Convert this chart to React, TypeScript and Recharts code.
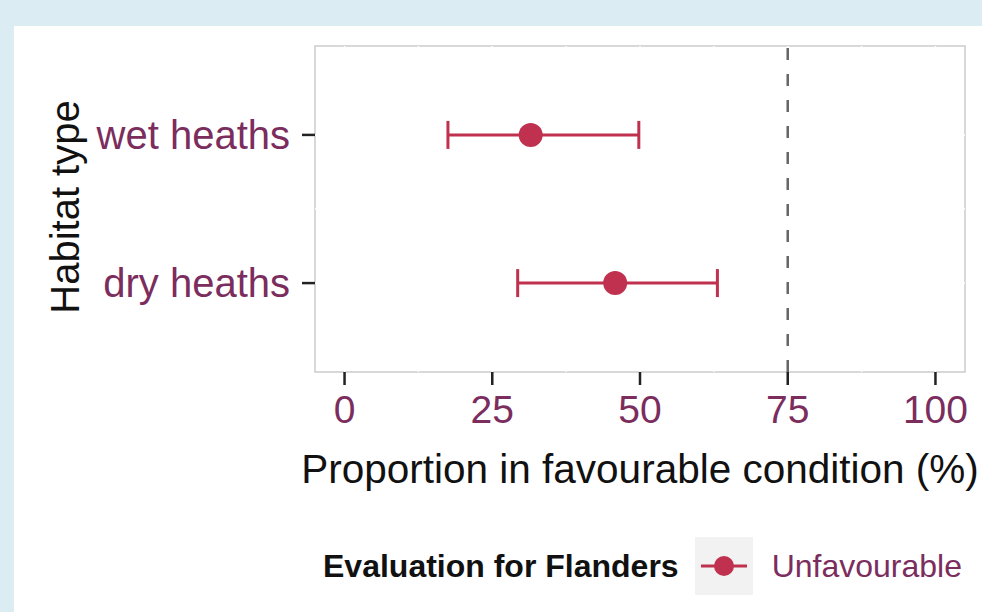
import {
  ComposedChart,
  Scatter,
  ErrorBar,
  XAxis,
  YAxis,
  ReferenceLine,
  ReferenceArea,
  Label,
} from 'recharts'

// habitat types and their estimates (% in favourable condition)
const habitats = ['wet heaths', 'dry heaths']
const estimates = [31.5, 45.8]
const lowerBounds = [17.5, 29.3]
const upperBounds = [49.8, 63.1]
const xTicks = [0, 25, 50, 75, 100]
const gridX = [0, 12.5, 25, 37.5, 50, 62.5, 75, 87.5, 100]
const gridY = [1, 1.5, 2]
const targetValue = 75
const legendTitle = 'Evaluation for Flanders'
const legendLabel = 'Unfavourable'

const data = habitats.map((name, i) => ({
  name,
  pos: i + 1,
  value: estimates[i],
  err: [estimates[i] - lowerBounds[i], upperBounds[i] - estimates[i]],
}))

const FONT = '"Liberation Sans", Arial, sans-serif'
const CRIMSON = '#c0314f'
const PURPLE = '#7b2d5e'
const BORDER = '#cccccc'

function Dot(props: { cx?: number; cy?: number }) {
  return <circle cx={props.cx} cy={props.cy} r={12} fill={CRIMSON} />
}

export default function App() {
  return (
    <div
      style={{
        position: 'absolute',
        left: 0,
        top: 0,
        width: 982,
        height: 612,
        background: '#dbecf3',
        overflow: 'hidden',
        fontFamily: FONT,
      }}
    >
      <div style={{ position: 'absolute', left: 14, top: 26, right: 0, bottom: 0, background: '#fff' }} />
      <div style={{ position: 'absolute', left: 0, top: 0 }}>
        <ComposedChart
          width={982}
          height={612}
          data={data}
          margin={{ top: 46, right: 17, bottom: 0, left: 0 }}
        >
          <XAxis
            type="number"
            dataKey="value"
            domain={[-5, 105]}
            ticks={xTicks}
            allowDataOverflow
            height={240}
            axisLine={false}
            tickSize={13}
            tickMargin={10}
            tickLine={{ stroke: '#222', strokeWidth: 2.5 }}
            tick={{ fill: PURPLE, fontSize: 39, fontFamily: FONT }}
          >
            <Label
              value="Proportion in favourable condition (%)"
              position="insideTop"
              offset={82}
              fill="#111"
              fontSize={40.5}
              fontFamily={FONT}
            />
          </XAxis>
          <YAxis
            type="number"
            dataKey="pos"
            domain={[0.4, 2.6]}
            ticks={[1, 2]}
            reversed
            allowDataOverflow
            width={315}
            axisLine={false}
            tickSize={13}
            tickMargin={12}
            tickLine={{ stroke: '#222', strokeWidth: 2.5 }}
            tickFormatter={(v: number) => habitats[v - 1]}
            tick={{ fill: PURPLE, fontSize: 40, fontFamily: FONT }}
          >
            <Label
              content={() => (
                <text
                  x={65}
                  y={207}
                  transform="rotate(-90 65 207)"
                  textAnchor="middle"
                  dominantBaseline="central"
                  fill="#111"
                  fontSize={40}
                  fontFamily={FONT}
                >
                  Habitat type
                </text>
              )}
            />
          </YAxis>
          <ReferenceArea
            x1={-5}
            x2={105}
            y1={0.4}
            y2={2.6}
            fill="none"
            stroke={BORDER}
            strokeWidth={1.5}
            fillOpacity={0}
          />
          {gridX.map((g) => (
            <ReferenceLine key={'gx' + g} x={g} stroke="#ffffff" strokeWidth={1.5} />
          ))}
          {gridY.map((g) => (
            <ReferenceLine key={'gy' + g} y={g} stroke="#ffffff" strokeWidth={1.5} />
          ))}
          <ReferenceLine x={targetValue} stroke="#666" strokeWidth={2.5} strokeDasharray="12 14" />
          <Scatter dataKey="value" fill={CRIMSON} shape={<Dot />} isAnimationActive={false}>
            <ErrorBar
              dataKey="err"
              direction="x"
              width={14}
              stroke={CRIMSON}
              strokeWidth={3}
              isAnimationActive={false}
            />
          </Scatter>
        </ComposedChart>
      </div>

      {/* legend */}
      <div
        style={{
          position: 'absolute',
          left: 323,
          top: 537,
          height: 58,
          display: 'flex',
          alignItems: 'center',
        }}
      >
        <span style={{ fontWeight: 'bold', fontSize: 32, color: '#111' }}>{legendTitle}</span>
        <svg width={58} height={58} style={{ marginLeft: 16 }}>
          <rect x={0} y={0} width={58} height={58} fill="#f2f2f2" />
          <line x1={6} x2={52} y1={29} y2={29} stroke={CRIMSON} strokeWidth={3} />
          <circle cx={29} cy={29} r={10} fill={CRIMSON} />
        </svg>
        <span style={{ fontSize: 32, color: PURPLE, marginLeft: 19 }}>{legendLabel}</span>
      </div>
    </div>
  )
}
